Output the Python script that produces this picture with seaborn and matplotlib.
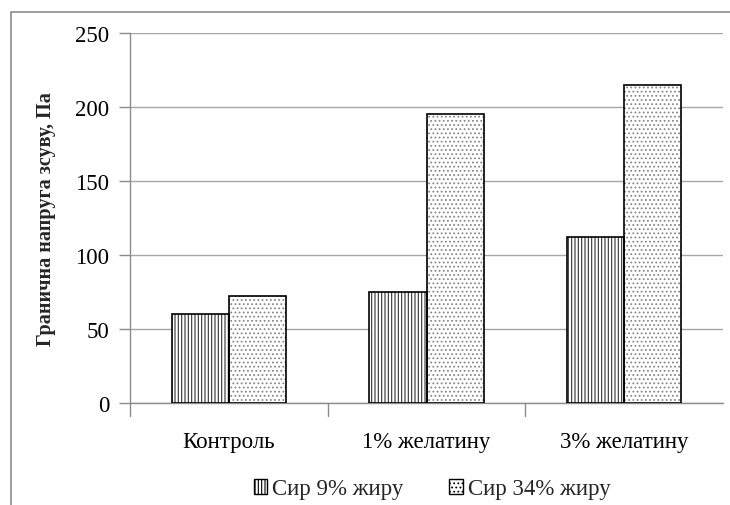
import matplotlib
matplotlib.use("Agg")
import matplotlib.pyplot as plt
from matplotlib.patches import Rectangle
import seaborn as sns
import pandas as pd

categories = ["Контроль", "1% желатину", "3% желатину"]
series_names = ["Сир 9% жиру", "Сир 34% жиру"]
values_9 = [60, 75, 112]
values_34 = [72, 195, 215]
y_ticks = [0, 50, 100, 150, 200, 250]
y_label = "Гранична напруга зсуву, Па"

sns.set_theme(style="white")
plt.rcParams["font.family"] = ["Liberation Serif", "DejaVu Serif"]
plt.rcParams["hatch.linewidth"] = 0.8

df = pd.DataFrame({
    "cat": categories * 2,
    "series": [series_names[0]] * 3 + [series_names[1]] * 3,
    "val": values_9 + values_34,
})

fig = plt.figure(figsize=(7.3, 5.06), dpi=100)
ax = fig.add_axes([130 / 730, 1 - 404 / 506, (723 - 130) / 730, (404 - 34) / 506])

sns.barplot(data=df, x="cat", y="val", hue="series", order=categories,
            hue_order=series_names, palette=["white", "white"], width=0.58,
            ax=ax, legend=False, zorder=3)

hatches = {series_names[0]: "|||||", series_names[1]: "...."}
hcolors = {series_names[0]: "#333333", series_names[1]: "#888888"}
for cont, name in zip(ax.containers, series_names):
    for p in cont.patches:
        p.set_hatch(hatches[name])
        p.set_edgecolor(hcolors[name])
        p.set_linewidth(0)
        outline = Rectangle((p.get_x(), p.get_y()), p.get_width(), p.get_height(),
                            fill=False, edgecolor="black", linewidth=1.2, zorder=4)
        ax.add_patch(outline)

ax.set_ylim(0, 250)
ax.set_yticks(y_ticks)
ax.set_xlim(-0.5, 2.5)
ax.yaxis.grid(True, color="#a6a6a6", linewidth=1)
ax.set_axisbelow(True)
for s in ["top", "right"]:
    ax.spines[s].set_visible(False)
for s in ["left", "bottom"]:
    ax.spines[s].set_color("#8c8c8c")
    ax.spines[s].set_linewidth(1)
ax.tick_params(axis="y", length=8, color="#8c8c8c", width=1, labelsize=16.5, pad=7, left=True)
ax.set_xticks([0, 1, 2])
ax.set_xticklabels(categories)
ax.tick_params(axis="x", length=0, labelsize=16.5, pad=20)
for xb in [-0.5, 0.5, 1.5]:
    ax.plot([xb, xb], [0, -0.035], transform=ax.get_xaxis_transform(), color="#8c8c8c",
            linewidth=1, clip_on=False)
ax.set_xlabel("")
ax.set_ylabel(y_label, fontsize=14.5, fontweight="bold", labelpad=14)
for lab in ax.get_yticklabels() + ax.get_xticklabels():
    lab.set_color("black")

# chart border
fig.add_artist(Rectangle((11 / 730, -0.1), 1.2, 1 - 13 / 506 + 0.1, fill=False,
                         edgecolor="#8c8c8c", linewidth=1.2, transform=fig.transFigure))

handles = [Rectangle((0, 0), 1, 1, facecolor="white", edgecolor="black", hatch=hatches[n],
                     linewidth=1) for n in series_names]
fig.legend(handles, series_names, loc="center", bbox_to_anchor=(432 / 730, 1 - 490 / 506),
           ncol=2, frameon=False, fontsize=16.5, handlelength=0.6, handleheight=0.6,
           handletextpad=0.2, columnspacing=2.0)

fig.savefig("out.png", dpi=100)
